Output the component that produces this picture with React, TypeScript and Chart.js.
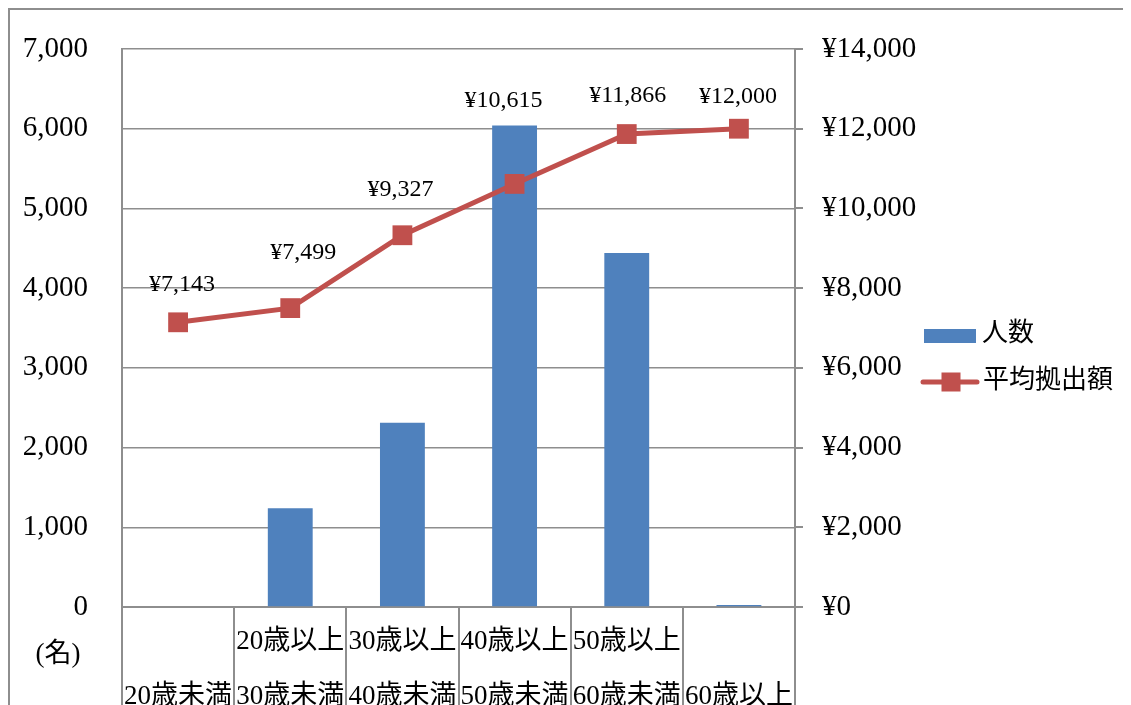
import React, { useEffect, useRef } from "react";
import { Chart, registerables } from "chart.js";

Chart.register(...registerables);

// ---- data ----
const categoryLabels: string[][] = [
  ["20歳未満"],
  ["20歳以上", "30歳未満"],
  ["30歳以上", "40歳未満"],
  ["40歳以上", "50歳未満"],
  ["50歳以上", "60歳未満"],
  ["60歳以上"],
];
const headcount = [10, 1240, 2310, 6040, 4440, 25];
const avgContribution = [7143, 7499, 9327, 10615, 11866, 12000];
const seriesNames = ["人数", "平均拠出額"];
const leftAxisMax = 7000;
const leftAxisStep = 1000;
const rightAxisMax = 14000;
const rightAxisStep = 2000;
const unitLabel = "(名)";

// ---- style ----
const BAR_COLOR = "#4F81BD";
const LINE_COLOR = "#C0504D";
const GRID_COLOR = "#8e8e8e";
const FONT = "'Liberation Serif', 'Noto Sans CJK JP', serif";
// label offsets above each point (px) as placed in the original
const LABEL_LIFT = [38, 55, 46, 83, 38, 32];
const LABEL_SHIFT = [4, 13, -2, -11, 1, -1];

const yen = (v: number) => "¥" + Number(v).toLocaleString("en-US");

const valueLabels = {
  id: "valueLabels",
  afterDatasetsDraw(chart: any) {
    const meta = chart.getDatasetMeta(1);
    const ctx = chart.ctx;
    ctx.save();
    ctx.font = `24px ${FONT}`;
    ctx.fillStyle = "#000";
    ctx.textAlign = "center";
    ctx.textBaseline = "middle";
    meta.data.forEach((pt: any, i: number) => {
      const v = chart.data.datasets[1].data[i];
      ctx.fillText(yen(v), pt.x + LABEL_SHIFT[i], pt.y - LABEL_LIFT[i]);
    });
    ctx.restore();
  },
};

const sideLegend = {
  id: "sideLegend",
  afterDraw(chart: any) {
    const { ctx, chartArea } = chart;
    const ds = chart.data.datasets;
    const x0 = chartArea.right + 129;
    const y1 = chartArea.top + 287;
    const y2 = chartArea.top + 333;
    ctx.save();
    // bar item
    ctx.fillStyle = ds[0].backgroundColor;
    ctx.fillRect(x0, y1 - 7, 52, 14);
    // line item
    ctx.strokeStyle = ds[1].borderColor;
    ctx.lineWidth = 5;
    ctx.lineCap = "round";
    ctx.beginPath();
    ctx.moveTo(x0 - 1, y2);
    ctx.lineTo(x0 + 53, y2);
    ctx.stroke();
    ctx.fillStyle = ds[1].borderColor;
    ctx.fillRect(x0 + 27 - 9.5, y2 - 9.5, 19, 19);
    // text
    ctx.fillStyle = "#000";
    ctx.font = `26px ${FONT}`;
    ctx.textAlign = "left";
    ctx.textBaseline = "middle";
    ctx.fillText(ds[0].label, x0 + 58, y1 - 2);
    ctx.fillText(ds[1].label, x0 + 59, y2 - 1);
    ctx.restore();
  },
};

const unitText = {
  id: "unitText",
  afterDraw(chart: any) {
    const { ctx, chartArea } = chart;
    ctx.save();
    ctx.font = `27px ${FONT}`;
    ctx.fillStyle = "#000";
    ctx.textAlign = "center";
    ctx.textBaseline = "middle";
    ctx.fillText(unitLabel, chartArea.left - 64, chartArea.bottom + 48);
    ctx.restore();
  },
};

export default function App() {
  const ref = useRef<HTMLCanvasElement | null>(null);

  useEffect(() => {
    document.body.style.overflow = "hidden";
    const canvas = ref.current;
    if (!canvas) return;
    const chart = new Chart(canvas, {
      type: "bar",
      data: {
        labels: categoryLabels,
        datasets: [
          {
            type: "bar",
            label: seriesNames[0],
            data: headcount,
            backgroundColor: BAR_COLOR,
            borderWidth: 0,
            barPercentage: 0.4,
            categoryPercentage: 1,
            yAxisID: "y",
            order: 1,
          } as any,
          {
            type: "line",
            label: seriesNames[1],
            data: avgContribution,
            borderColor: LINE_COLOR,
            backgroundColor: LINE_COLOR,
            borderWidth: 5,
            pointStyle: "rect",
            pointRadius: 14,
            pointBackgroundColor: LINE_COLOR,
            pointBorderWidth: 0,
            tension: 0,
            yAxisID: "y1",
            order: 0,
          } as any,
        ],
      },
      options: {
        responsive: false,
        animation: false,
        layout: { padding: { top: 39, left: 0, right: 285, bottom: 0 } },
        plugins: {
          legend: { display: false },
          tooltip: { enabled: false },
        },
        scales: {
          x: {
            type: "category",
            grid: {
              offset: true,
              drawOnChartArea: false,
              drawTicks: true,
              tickLength: 160,
              color: GRID_COLOR,
              lineWidth: 2,
            },
            border: { display: true, color: GRID_COLOR, width: 2 },
            ticks: {
              crossAlign: "far",
              padding: -125,
              maxRotation: 0,
              minRotation: 0,
              autoSkip: false,
              color: "#000",
              font: { family: FONT, size: 27, lineHeight: 2.04 },
            },
            afterFit: (s: any) => {
              s.height = 163;
            },
          },
          y: {
            position: "left",
            min: 0,
            max: leftAxisMax,
            grid: {
              color: GRID_COLOR,
              lineWidth: 1.5,
              drawTicks: true,
              tickLength: 34,
              tickColor: "rgba(0,0,0,0)",
            },
            border: { display: true, color: GRID_COLOR, width: 2 },
            ticks: {
              stepSize: leftAxisStep,
              padding: 0,
              color: "#000",
              font: { family: FONT, size: 29 },
              callback: (v: any) => Number(v).toLocaleString("en-US"),
            },
            afterFit: (s: any) => {
              s.width = 112;
            },
          },
          y1: {
            position: "right",
            min: 0,
            max: rightAxisMax,
            grid: {
              drawOnChartArea: false,
              drawTicks: true,
              tickLength: 8,
              color: GRID_COLOR,
              lineWidth: 2,
            },
            border: { display: true, color: GRID_COLOR, width: 2 },
            ticks: {
              stepSize: rightAxisStep,
              padding: 19,
              color: "#000",
              font: { family: FONT, size: 29 },
              callback: (v: any) => yen(v),
            },
            afterFit: (s: any) => {
              s.width = 130;
            },
          },
        },
      } as any,
      plugins: [valueLabels, sideLegend, unitText],
    });
    return () => chart.destroy();
  }, []);

  return (
    <div
      style={{
        width: 1200,
        height: 760,
        border: "2px solid #8e8e8e",
        background: "#fff",
      }}
    >
      <canvas ref={ref} width={1200} height={760} style={{ display: "block" }} />
    </div>
  );
}
